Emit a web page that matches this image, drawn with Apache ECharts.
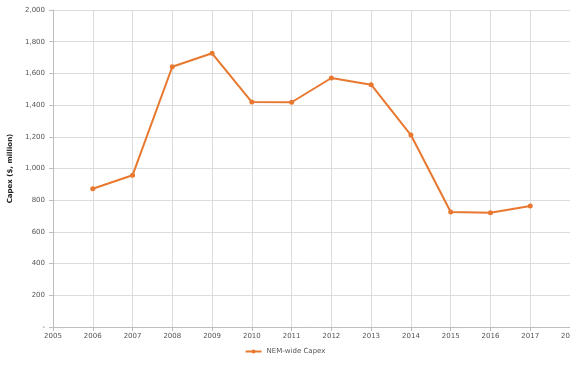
<!DOCTYPE html>
<html>
<head>
<meta charset="utf-8">
<script src="https://cdn.jsdelivr.net/npm/echarts@6/dist/echarts.min.js"></script>
<style>
  html, body { margin: 0; padding: 0; background: #fff; }
  #chart { width: 570px; height: 365px; }
</style>
</head>
<body>
<div id="chart"></div>
<script>
// Annual NEM-wide capital expenditure, $ million
const years = [2006, 2007, 2008, 2009, 2010, 2011, 2012, 2013, 2014, 2015, 2016, 2017];
const capex = [872, 957, 1642, 1727, 1419, 1418, 1571, 1529, 1211, 726, 721, 763];
const seriesName = 'NEM-wide Capex';
const axisTitle = 'Capex ($, million)';

const chart = echarts.init(document.getElementById('chart'));
const orange = '#E8782F';

chart.setOption({
  animation: false,
  grid: { left: 53, right: 0, top: 10, bottom: 38, outerBoundsMode: 'none', containLabel: false },
  xAxis: {
    type: 'value',
    min: 2005,
    max: 2018,
    interval: 1,
    axisLine: { show: true, lineStyle: { color: '#bdbdbd' } },
    axisTick: { show: true, length: 4, lineStyle: { color: '#bdbdbd' } },
    axisLabel: { color: '#555', fontSize: 7, fontFamily: 'DejaVu Sans', margin: 6, formatter: v => String(v) },
    splitLine: { show: true, lineStyle: { color: '#dcdcdc', width: 1 } }
  },
  yAxis: {
    type: 'value',
    min: 0,
    max: 2000,
    interval: 200,
    name: axisTitle,
    nameLocation: 'middle',
    nameGap: 38,
    nameRotate: 90,
    nameTextStyle: { color: '#222', fontSize: 7, fontWeight: 'bold', fontFamily: 'DejaVu Sans' },
    axisLine: { show: true, lineStyle: { color: '#bdbdbd' } },
    axisTick: { show: true, length: 4, lineStyle: { color: '#bdbdbd' } },
    axisLabel: {
      color: '#555', fontSize: 7, fontFamily: 'DejaVu Sans', margin: 8,
      formatter: v => v === 0 ? '-' : v.toLocaleString('en-US')
    },
    splitLine: { show: true, lineStyle: { color: '#dcdcdc', width: 1 } }
  },
  legend: {
    bottom: 5,
    left: 'center',
    itemWidth: 16,
    itemHeight: 5,
    itemGap: 4,
    textStyle: { color: '#555', fontSize: 7, fontFamily: 'DejaVu Sans' },
    data: [seriesName]
  },
  series: [{
    name: seriesName,
    type: 'line',
    data: years.map((y, i) => [y, capex[i]]),
    symbol: 'circle',
    symbolSize: 5,
    lineStyle: { color: orange, width: 2 },
    itemStyle: { color: orange }
  }]
});
</script>
</body>
</html>
